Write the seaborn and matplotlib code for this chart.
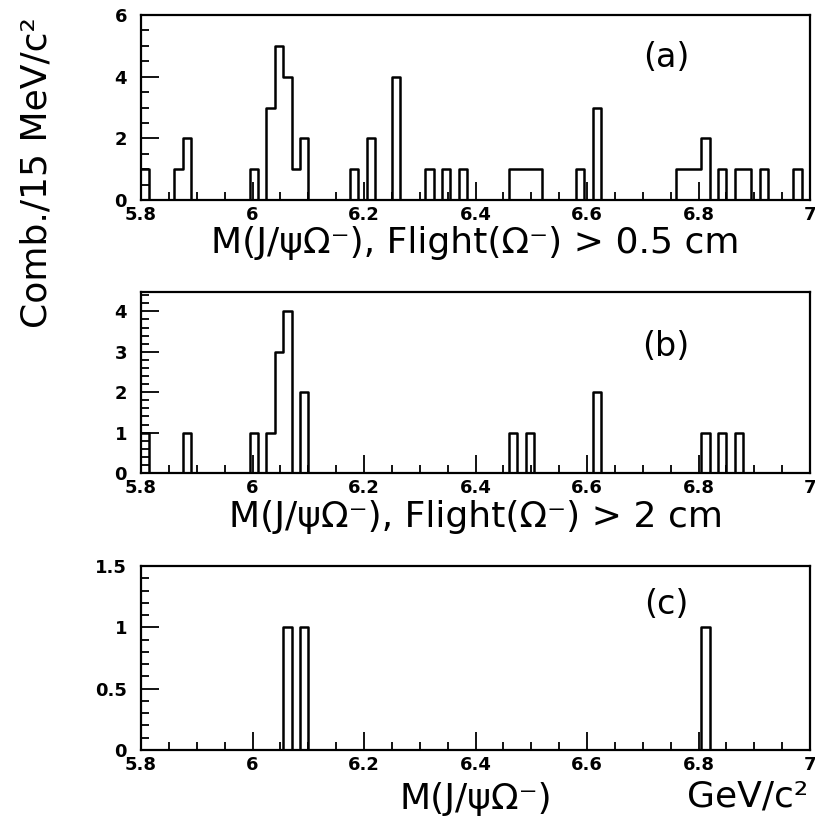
import numpy as np
import pandas as pd
import matplotlib
matplotlib.use("Agg")
import matplotlib.pyplot as plt
import seaborn as sns
from matplotlib.ticker import MultipleLocator, FuncFormatter

# 80 bins of 15 MeV/c^2 between 5.8 and 7.0 GeV/c^2
n_bins = 80
mass_range = (5.8, 7.0)

# (a) Flight(Ω⁻) > 0.5 cm : bin centres and combinations per bin
mass_a = [5.8075, 5.8675, 5.8825, 6.0025, 6.0325, 6.0475, 6.0625, 6.0775,
          6.0925, 6.1825, 6.2125, 6.2575, 6.3175, 6.3475, 6.3775, 6.4675,
          6.4825, 6.4975, 6.5125, 6.5875, 6.6175, 6.7675, 6.7825, 6.7975,
          6.8125, 6.8425, 6.8725, 6.8875, 6.9175, 6.9775]
count_a = [1, 1, 2, 1, 3, 5, 4, 1,
           2, 1, 2, 4, 1, 1, 1, 1,
           1, 1, 1, 1, 3, 1, 1, 1,
           2, 1, 1, 1, 1, 1]

# (b) Flight(Ω⁻) > 2 cm
mass_b = [5.8075, 5.8825, 6.0025, 6.0325, 6.0475, 6.0625, 6.0925,
          6.4675, 6.4975, 6.6175, 6.8125, 6.8425, 6.8725]
count_b = [1, 1, 1, 1, 3, 4, 2,
           1, 1, 2, 1, 1, 1]

# (c) final selection
mass_c = [6.0625, 6.0925, 6.8125]
count_c = [1, 1, 1]

panel_tags = ["(a)", "(b)", "(c)"]
x_titles = ["M(J/ψΩ⁻), Flight(Ω⁻) > 0.5 cm",
            "M(J/ψΩ⁻), Flight(Ω⁻) > 2 cm",
            "M(J/ψΩ⁻)"]
y_title = "Comb./15 MeV/c²"
unit_title = "GeV/c²"

sns.set_theme(style="ticks")
plt.rcParams["font.family"] = ["DejaVu Sans"]
plt.rcParams["text.color"] = "black"
plt.rcParams["axes.labelcolor"] = "black"
plt.rcParams["xtick.color"] = "black"
plt.rcParams["ytick.color"] = "black"

W, H = 815, 825
fig = plt.figure(figsize=(W / 100, H / 100), dpi=100)


def frac_box(left, top, right, bottom):
    return [left / W, 1 - bottom / H, (right - left) / W, (bottom - top) / H]


boxes = [frac_box(141, 15, 810, 200),
         frac_box(141, 292, 810, 473),
         frac_box(141, 566, 810, 750)]
ylims = [6.0, 4.48, 1.5]
y_major = [2, 1, 0.5]
y_minor = [0.5, 0.2, 0.1]
datasets = [(mass_a, count_a), (mass_b, count_b), (mass_c, count_c)]

fmt = FuncFormatter(lambda v, p: f"{v:g}")

for i, (box, (m, n)) in enumerate(zip(boxes, datasets)):
    ax = fig.add_axes(box)
    df = pd.DataFrame({"mass": m, "count": n})
    sns.histplot(data=df, x="mass", weights="count", bins=n_bins,
                 binrange=mass_range, element="step", fill=False,
                 color="black", linewidth=1.8, ax=ax)
    ax.set_xlim(*mass_range)
    ax.set_ylim(0, ylims[i])
    ax.set_xlabel("")
    ax.set_ylabel("")
    ax.xaxis.set_major_locator(MultipleLocator(0.2))
    ax.xaxis.set_minor_locator(MultipleLocator(0.05))
    ax.yaxis.set_major_locator(MultipleLocator(y_major[i]))
    ax.yaxis.set_minor_locator(MultipleLocator(y_minor[i]))
    ax.xaxis.set_major_formatter(fmt)
    ax.yaxis.set_major_formatter(fmt)
    ax.tick_params(which="both", direction="in", color="black", width=1.3,
                   labelcolor="black")
    ax.tick_params(which="major", length=13)
    ax.tick_params(which="minor", length=6)
    ax.tick_params(axis="x", pad=4)
    ax.tick_params(axis="y", pad=10)
    for lab in ax.get_xticklabels() + ax.get_yticklabels():
        lab.set_fontsize(13)
        lab.set_fontweight("bold")
    for sp in ax.spines.values():
        sp.set_visible(True)
        sp.set_color("black")
        sp.set_linewidth(1.6)
    ax.text(0.785, [0.77, 0.70, 0.79][i], panel_tags[i], transform=ax.transAxes,
            ha="center", va="center", fontsize=24, color="black")

# axis titles
fig.text(475 / W, 1 - 243 / H, x_titles[0], ha="center", va="center", fontsize=26)
fig.text(476 / W, 1 - 517 / H, x_titles[1], ha="center", va="center", fontsize=26)
fig.text(476 / W, 1 - 799 / H, x_titles[2], ha="center", va="center", fontsize=26)
fig.text(808 / W, 1 - 797 / H, unit_title, ha="right", va="center", fontsize=26)
fig.text(37 / W, 1 - 173 / H, y_title, ha="center", va="center", rotation=90,
         fontsize=26)

fig.savefig("out.png", dpi=100, facecolor="white")
